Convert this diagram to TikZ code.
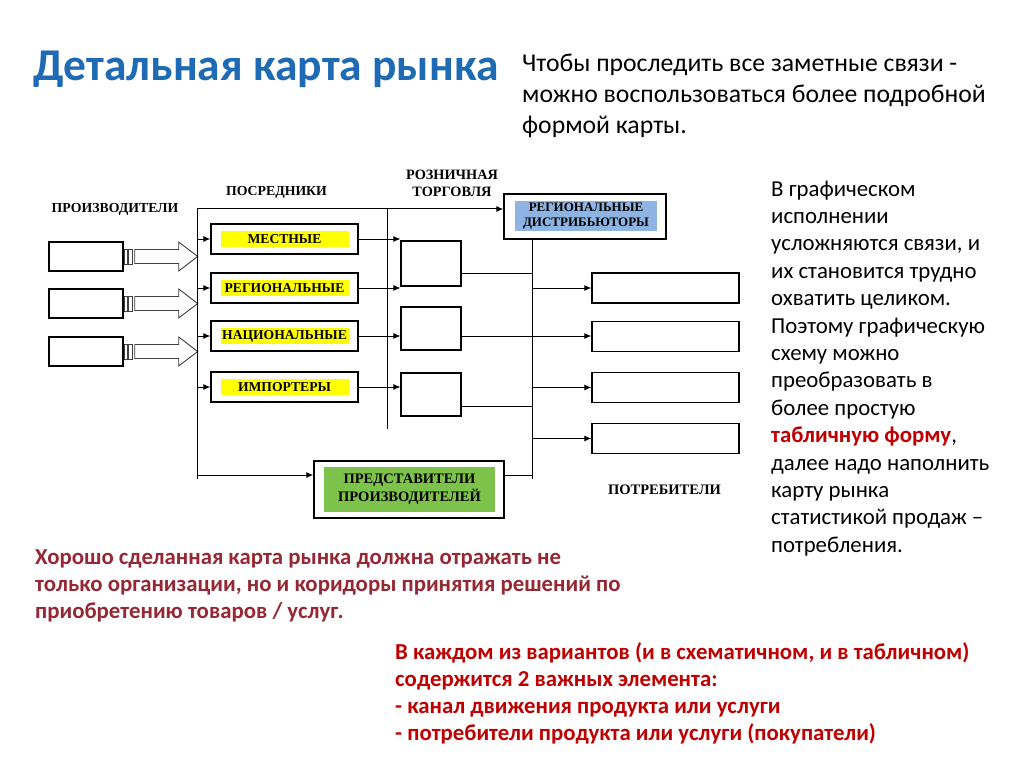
\documentclass[tikz,border=0pt]{standalone}
\usepackage{fontspec}
\setmainfont{Carlito}
\newfontfamily\tnr{Liberation Serif}
\usetikzlibrary{arrows.meta,calc}
\definecolor{titleblue}{RGB}{31,106,180}
\definecolor{darkred}{RGB}{150,40,52}
\definecolor{brightred}{RGB}{192,0,0}
\definecolor{hlyellow}{RGB}{255,255,0}
\definecolor{hlblue}{RGB}{141,180,226}
\definecolor{hlgreen}{RGB}{125,195,75}
\begin{document}
\begin{tikzpicture}[x=1pt,y=-1pt,
  box/.style={draw=black,line width=1.4pt,fill=white,inner sep=0pt},
  thinline/.style={draw=black,line width=1pt},
  arr/.style={thinline,-{Latex[length=7pt,width=6pt]}},
  lab/.style={font=\tnr\bfseries\fontsize{13.8}{17}\selectfont,inner sep=0pt},
  hly/.style={lab,font=\tnr\bfseries\fontsize{13.6}{17}\selectfont,fill=hlyellow,minimum width=128pt,minimum height=16pt},
  hollow/.style={draw=black!75,line width=0.9pt,fill=white},
  midbox/.style={box,minimum width=147pt,minimum height=30pt},
  conbox/.style={box,minimum width=147pt,minimum height=30pt},
  prodbox/.style={box,minimum width=74pt,minimum height=29pt},
  retbox/.style={box,line width=1.1pt,minimum width=60pt,minimum height=44pt},
  txt/.style={anchor=north west,inner sep=0pt,align=left}
]
\useasboundingbox[fill=white] (0,0) rectangle (1024,767);

% texts
\node[anchor=base west,inner sep=0pt,font=\fontsize{45.5}{50}\selectfont\bfseries,text=titleblue] (title) at (33,81) {Детальная карта рынка};
\node[txt,font=\fontsize{25.7}{31}\selectfont] (intro) at (522,54) {Чтобы проследить все заметные связи -\\можно воспользоваться более подробной\\формой карты.};
\node[txt,font=\fontsize{22.8}{27.4}\selectfont] (side) at (771,180.5) {В графическом\\исполнении\\усложняются связи, и\\их становится трудно\\охватить целиком.\\Поэтому графическую\\схему можно\\преобразовать в\\более простую\\\textcolor{brightred}{\bfseries табличную форму},\\далее надо наполнить\\карту рынка\\статистикой продаж –\\потребления.};
\node[txt,font=\fontsize{22.8}{27}\selectfont\bfseries,text=darkred] (note1) at (35,549.5) {Хорошо сделанная карта рынка должна отражать не\\только организации, но и коридоры принятия решений по\\приобретению товаров / услуг.};
\node[txt,font=\fontsize{22.8}{26.9}\selectfont\bfseries,text=brightred] (note2) at (395,642.5) {В каждом из вариантов (и в схематичном, и в табличном)\\содержится 2 важных элемента:\\- канал движения продукта или услуги\\- потребители продукта или услуги (покупатели)};

% column labels
\node[lab] (lprod) at (115,209) {ПРОИЗВОДИТЕЛИ};
\node[lab] (lpos) at (276.5,192) {ПОСРЕДНИКИ};
\node[lab,font=\tnr\bfseries\fontsize{14.3}{17}\selectfont,align=center] (lret) at (452,183.5) {РОЗНИЧНАЯ\\ТОРГОВЛЯ};
\node[lab,font=\tnr\bfseries\fontsize{14.5}{17}\selectfont] (lcons) at (664.5,490) {ПОТРЕБИТЕЛИ};

% producers
\node[prodbox] (p1) at (86,256.5) {};
\node[prodbox] (p2) at (86,303.5) {};
\node[prodbox] (p3) at (86,351.5) {};
\foreach \p in {p1,p2,p3}{
  \draw[hollow] ($(\p.east)+(1,-7.5)$) rectangle ($(\p.east)+(4,7.5)$);
  \draw[hollow] ($(\p.east)+(5,-7.5)$) rectangle ($(\p.east)+(9,7.5)$);
  \draw[hollow] ($(\p.east)+(11,-7)$) -- ($(\p.east)+(55,-7)$) -- ($(\p.east)+(55,-14.5)$) -- ($(\p.east)+(74,0)$) -- ($(\p.east)+(55,14.5)$) -- ($(\p.east)+(55,7)$) -- ($(\p.east)+(11,7)$) -- cycle;
}

% buses
\coordinate (A1) at (197,209);
\coordinate (A2) at (197,475);
\coordinate (B1) at (387,209);
\coordinate (B2) at (387,429);
\draw[thinline] (A1) -- ($(A2)+(0,4)$);
\draw[thinline] (B1) -- (B2);

% intermediaries
\node[midbox] (mest) at (284.5,239) {};
\node[midbox] (reg) at (284.5,288) {};
\node[midbox] (nat) at (284.5,336) {};
\node[midbox] (imp) at (284.5,387) {};
\node[hly] at (mest) {МЕСТНЫЕ};
\node[hly] at (reg) {РЕГИОНАЛЬНЫЕ};
\node[hly] at (nat) {НАЦИОНАЛЬНЫЕ};
\node[hly] at (imp) {ИМПОРТЕРЫ};
\foreach \m in {mest,reg,nat,imp}{
  \draw[arr] (A1 |- \m.west) -- (\m.west);
}

% distributors
\node[box,minimum width=162pt,minimum height=45pt] (dist) at (585,216.5) {};
\node[lab,font=\tnr\bfseries\fontsize{13}{15}\selectfont,align=center,fill=hlblue,minimum width=142pt,minimum height=30pt] at (586,216.5) {РЕГИОНАЛЬНЫЕ\\ДИСТРИБЬЮТОРЫ};
\draw[arr] (A1) -- (A1 -| dist.west);

% retail
\node[retbox,minimum height=45pt] (r1) at (431,263.5) {};
\node[retbox,minimum height=43pt] (r2) at (431,328.5) {};
\node[retbox,minimum height=43pt] (r3) at (431,394.5) {};
\draw[arr] (mest.east) -- (mest.east -| r1.west);
\draw[arr] (reg.east) -- (reg.east -| r1.west);
\draw[arr] (nat.east) -- (nat.east -| r2.west);
\draw[arr] (imp.east) -- (imp.east -| r3.west);

% consumers
\node[conbox] (c1) at (665.5,288) {};
\node[conbox] (c2) at (665.5,336.5) {};
\node[conbox] (c3) at (665.5,387.5) {};
\node[conbox] (c4) at (665.5,438.5) {};

% representatives
\node[box,minimum width=190pt,minimum height=57pt] (rep) at (409,489.5) {};
\node[lab,font=\tnr\bfseries\fontsize{14.5}{18}\selectfont,align=center,fill=hlgreen,minimum width=171pt,minimum height=45pt] at (409.5,489.5) {ПРЕДСТАВИТЕЛИ\\ПРОИЗВОДИТЕЛЕЙ};

% bus C
\coordinate (C1) at ($(dist.south west)+(29,0)$);
\coordinate (C2) at (C1 |- A2);
\draw[thinline] (C1) -- ($(C2)+(0,4)$);
\draw[thinline] (r1.east) ++(0,9.5) coordinate (r1o) -- (r1o -| C1);
\draw[thinline] (r3.east) ++(0,11.5) coordinate (r3o) -- (r3o -| C1);
\draw[arr] (r2.east |- nat.east) -- (nat.east -| c2.west);
\foreach \c in {c1,c3,c4}{
  \draw[arr] (C1 |- \c.west) -- (\c.west);
}
\draw[arr] (A2) -- (A2 -| rep.west);
\draw[thinline] (rep.east |- A2) -- (C2);
\end{tikzpicture}
\end{document}
